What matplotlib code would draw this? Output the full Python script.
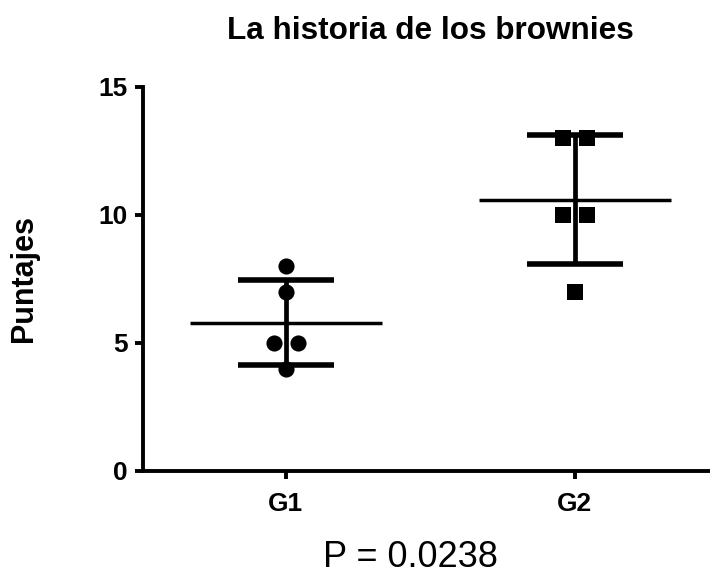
import numpy as np
import matplotlib.pyplot as plt

plt.rcParams['font.family'] = ['Liberation Sans', 'DejaVu Sans']

groups = ['G1', 'G2']
g1_scores = [8, 7, 5, 5, 4]
g2_scores = [13, 13, 10, 10, 7]
markers = ['o', 's']
y_ticks = [0, 5, 10, 15]
title = 'La historia de los brownies'
y_label = 'Puntajes'
p_text = 'P = 0.0238'


def spread(values, center, step=0.041):
    # place equal values side by side, like a column scatter
    xs = []
    for v in values:
        n = values.count(v)
        k = sum(1 for u in values[:len(xs)] if u == v)
        xs.append(center + (k - (n - 1) / 2) * step * 2 / max(n - 1, 1) if n > 1 else center)
    return xs


fig = plt.figure(figsize=(7.1, 5.74), dpi=100)
ax = fig.add_axes([143 / 710, 103 / 574, 567 / 710, 384 / 574])

for i, (vals, m) in enumerate(zip([g1_scores, g2_scores], markers)):
    c = i + 1
    xs = spread(vals, c)
    ax.scatter(xs, vals, marker=m, s=135, color='black', zorder=3, linewidths=0)
    mean = np.mean(vals)
    sd = np.std(vals, ddof=1)
    ax.hlines(mean, c - 0.333, c + 0.333, color='black', lw=2.5, zorder=2)
    ax.vlines(c, mean - sd, mean + sd, color='black', lw=3.4, zorder=2)
    ax.hlines([mean - sd, mean + sd], c - 0.166, c + 0.166, color='black', lw=4, zorder=2)

ax.set_xlim(0.506, 2.468)
ax.set_ylim(0, 15)
ax.set_xticks([1, 2])
ax.set_xticklabels(groups, fontsize=19, fontweight='bold')
ax.set_yticks(y_ticks)
ax.set_yticklabels([str(t) for t in y_ticks], fontsize=19, fontweight='bold')
for s in ['top', 'right']:
    ax.spines[s].set_visible(False)
for s in ['left', 'bottom']:
    ax.spines[s].set_linewidth(2.8)
ax.tick_params(axis='both', width=2.8, length=6)
ax.tick_params(axis='x', pad=9)
ax.tick_params(axis='y', pad=5)
ax.set_ylabel(y_label, fontsize=22, fontweight='bold', labelpad=43)

fig.text(430 / 710, 1 - 39 / 574, title, ha='center', va='baseline', fontsize=22.7, fontweight='bold')
fig.text(410 / 710, 1 - 567 / 574, p_text, ha='center', va='baseline', fontsize=26)

fig.savefig('out.png', dpi=100)
